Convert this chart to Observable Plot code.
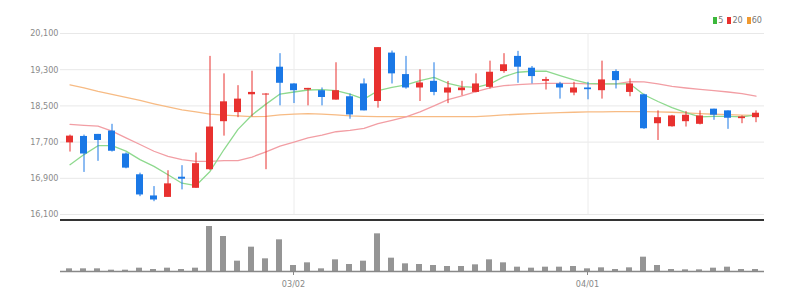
<!DOCTYPE html>
<html><head><meta charset="utf-8">
<script src="https://cdn.jsdelivr.net/npm/d3@7"></script>
<script src="https://cdn.jsdelivr.net/npm/@observablehq/plot@0.6"></script>
<style>
body{margin:0;background:#fff;width:803px;height:305px;overflow:hidden;font-family:"Liberation Sans Narrow","DejaVu Sans Condensed",sans-serif;}
#wrap{position:relative;width:803px;height:305px;}
#price{position:absolute;left:0;top:0;}
#vol{position:absolute;left:0;top:218px;}
#sep{position:absolute;left:60px;top:219px;width:704px;height:2px;background:#333;}
#legend{position:absolute;top:16px;right:41px;font-size:9px;color:#777;display:flex;align-items:center;line-height:9px;}
#legend .it{display:flex;align-items:center;margin-left:4px;}
#legend .sw{display:inline-block;width:4px;height:7px;margin-right:1px;}
svg{font-family:"Liberation Sans Narrow","DejaVu Sans Condensed",sans-serif;}
</style></head>
<body><div id="wrap"><div id="price"></div><div id="sep"></div><div id="vol"></div><div id="legend"></div></div>
<script>
const dates = ["02/07","02/08","02/09","02/10","02/11","02/14","02/15","02/16","02/17","02/18","02/21","02/22","02/23","02/24","02/25","02/28",
"03/02","03/03","03/04","03/07","03/08","03/10","03/11","03/14","03/15","03/16","03/17","03/18","03/21","03/22","03/23","03/24","03/25","03/28","03/29","03/30","03/31",
"04/01","04/04","04/05","04/06","04/07","04/08","04/11","04/12","04/13","04/14","04/15","04/18","04/19"];
const openP  = [17683,17825,17870,17944,17437,16978,16510,16478,16924,16679,17090,18151,18352,18746,18740,19355,18985,18851,18836,18628,18702,18985,18597,19667,19192,18896,19043,18784,18836,18798,18909,19259,19594,19333,19043,18985,18784,18896,18836,19259,18798,18746,18106,18039,18151,18093,18428,18390,18218,18240];
const highP  = [17855,17855,17870,18093,17460,17014,16717,17067,17179,17460,19594,19208,18947,19266,18770,19654,18990,18887,18896,19453,18762,19096,19788,19712,19594,19297,19453,19040,19043,19208,19489,19654,19705,19370,19132,19021,19021,19021,19489,19297,19096,18760,18390,18290,18374,18390,18428,18390,18278,18390];
const lowP   = [17480,17030,17275,17480,17110,16494,16383,16478,16644,16679,17070,17832,18240,18256,17090,18501,18552,18501,18501,18628,18205,18390,18450,18985,18870,18597,18724,18550,18724,18790,18874,19221,19000,18985,18851,18650,18724,18635,18650,18874,18702,17980,17736,18030,18033,18080,18182,17982,18106,18129];
const closeP = [17832,17437,17736,17498,17125,16532,16420,16777,16880,17223,18033,18590,18650,18798,18762,19000,18836,18887,18686,18836,18300,18390,19788,19208,18896,19007,18798,18896,18896,18985,19244,19409,19355,19148,19081,18896,18896,18858,19074,19059,18985,17995,18240,18278,18294,18278,18294,18227,18256,18338];
const ma5  = [17200,17424,17620,17620,17500,17313,17163,16978,16791,16740,17052,17536,17982,18300,18539,18762,18807,18851,18858,18836,18762,18650,18836,18909,18963,19059,19132,19000,18925,18909,18985,19148,19244,19266,19266,19170,19074,19000,18985,18985,18985,18746,18597,18464,18352,18256,18270,18270,18256,18300];
const ma20 = [18093,18071,18055,17944,17794,17647,17498,17386,17313,17275,17275,17290,17290,17370,17483,17610,17699,17794,17855,17929,17959,18004,18106,18182,18256,18367,18501,18640,18724,18814,18896,18947,18970,18985,19000,19000,19000,18985,18985,18985,19036,19029,18985,18932,18896,18866,18836,18807,18769,18717];
const ma60 = [18963,18896,18820,18753,18686,18620,18546,18477,18412,18367,18316,18294,18278,18263,18270,18300,18320,18330,18320,18300,18280,18270,18265,18263,18263,18265,18263,18263,18263,18263,18280,18300,18316,18330,18340,18352,18360,18367,18370,18374,18374,18374,18370,18360,18345,18330,18315,18305,18298,18290];
const volume = [8,8,8,4,4,10,6,10,6,10,135,105,31,73,38,95,18,26,8,35,21,31,113,40,23,21,18,15,15,20,35,26,13,10,13,13,15,8,11,6,11,43,18,6,5,5,10,13,6,6];
const yTicks = [16100,16900,17700,18500,19300,20100];
const xTicks = ["03/02","04/01"];
const legendItems = [{label:"5",color:"#3cb83c"},{label:"20",color:"#e8312f"},{label:"60",color:"#f09a30"}];

const UP="#e8312f", DOWN="#1a78e6";
const rows = dates.map((d,i)=>({date:d,open:openP[i],high:highP[i],low:lowP[i],close:closeP[i],ma5:ma5[i],ma20:ma20[i],ma60:ma60[i],vol:volume[i]}));
const col = d => d.close >= d.open ? UP : DOWN;
const font = '"Liberation Sans Narrow","DejaVu Sans Condensed",sans-serif';

const price = Plot.plot({
  width:803, height:219, marginLeft:60, marginRight:39, marginTop:33, marginBottom:5,
  x:{type:"band", domain:dates, paddingInner:0.5, paddingOuter:0.25, axis:null},
  y:{domain:[16100,20100], axis:null},
  style:{background:"transparent", fontFamily:font},
  marks:[
    Plot.gridY(yTicks, {stroke:"#e8e8e8", strokeOpacity:1}),
    Plot.ruleX(xTicks, {x:d=>d, stroke:"#ececec"}),
    Plot.axisY(yTicks, {tickSize:0, tickPadding:2, tickFormat:d3.format(","), fontSize:9, fill:"#8a8a8a", label:null}),
    Plot.line(rows, {x:"date", y:"ma60", stroke:"#f7bb84", strokeWidth:1.3}),
    Plot.line(rows, {x:"date", y:"ma20", stroke:"#f29ea4", strokeWidth:1.3}),
    Plot.line(rows, {x:"date", y:"ma5", stroke:"#8ed98e", strokeWidth:1.3}),
    Plot.ruleX(rows, {x:"date", y1:"low", y2:"high", stroke:col, strokeWidth:1}),
    Plot.barY(rows, {x:"date", y1:"open", y2:"close", fill:col})
  ]
});
document.getElementById("price").append(price);

const vol = Plot.plot({
  width:803, height:87, marginLeft:60, marginRight:39, marginTop:8, marginBottom:34,
  x:{type:"band", domain:dates, paddingInner:0.57, paddingOuter:0.285, axis:null},
  y:{domain:[0,135], axis:null},
  style:{background:"transparent", fontFamily:font},
  marks:[
    Plot.barY(rows, {x:"date", y:"vol", fill:"#959595"}),
    Plot.ruleY([0], {stroke:"#888", strokeWidth:1.5}),
    Plot.axisX(xTicks, {tickSize:4, tickPadding:5, fontSize:9, color:"#888", label:null})
  ]
});
document.getElementById("vol").append(vol);

const lg = document.getElementById("legend");
legendItems.forEach(it=>{
  const s=document.createElement("span"); s.className="it";
  s.innerHTML=`<span class="sw" style="background:${it.color}"></span><span>${it.label}</span>`;
  lg.append(s);
});
</script></body></html>
